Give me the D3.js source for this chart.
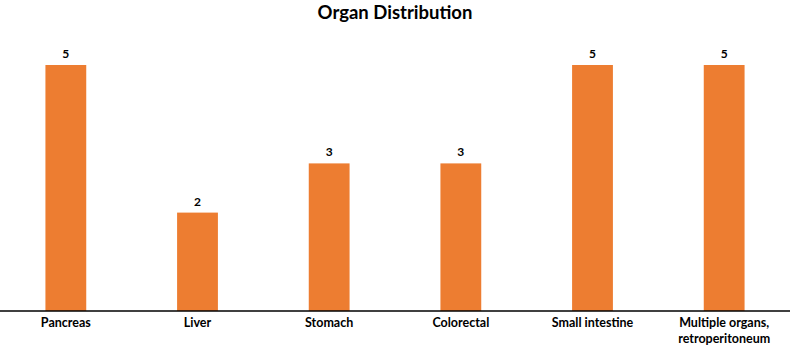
<!DOCTYPE html>
<html>
<head>
<meta charset="utf-8">
<script src="https://cdn.jsdelivr.net/npm/d3@7"></script>
<style>
  body { margin: 0; background: #fff; }
  text { font-family: Lato, "Open Sans", sans-serif; font-weight: bold; fill: #000; }
</style>
</head>
<body>
<svg id="chart" width="790" height="346"></svg>
<script>
const categories = ['Pancreas', 'Liver', 'Stomach', 'Colorectal', 'Small intestine', 'Multiple organs,|retroperitoneum'];
const counts = [5, 2, 3, 3, 5, 5];

const width = 790, height = 346;
const svg = d3.select('#chart');

const x = d3.scaleBand()
    .domain(categories)
    .range([0, width])
    .paddingInner(0.69)
    .paddingOuter(0.345);

const y = d3.scaleLinear()
    .domain([0, 5])
    .range([311, 65]);

// title
svg.append('text')
    .attr('x', width / 2)
    .attr('y', 19)
    .attr('text-anchor', 'middle')
    .attr('font-size', '18.5px')
    .text('Organ Distribution');

// bars
svg.selectAll('.bar')
    .data(counts)
    .enter()
    .append('rect')
    .attr('class', 'bar')
    .attr('x', (d, i) => x(categories[i]))
    .attr('y', d => y(d))
    .attr('width', x.bandwidth())
    .attr('height', d => y(0) - y(d))
    .attr('fill', '#ED7D31');

// value labels
svg.selectAll('.val')
    .data(counts)
    .enter()
    .append('text')
    .attr('class', 'val')
    .attr('x', (d, i) => x(categories[i]) + x.bandwidth() / 2)
    .attr('y', d => y(d) - 7)
    .attr('text-anchor', 'middle')
    .attr('font-size', '12px')
    .text(d => d);

// x axis
const axis = svg.append('g')
    .attr('transform', `translate(0,${y(0)})`)
    .call(d3.axisBottom(x).tickSize(0));

axis.select('.domain')
    .attr('stroke', '#000')
    .attr('stroke-width', 1.3)
    .attr('d', `M0,0H${width}`);

axis.selectAll('.tick text')
    .attr('font-size', '12.5px')
    .attr('font-family', 'Lato, "Open Sans", sans-serif')
    .attr('font-weight', 'bold')
    .attr('fill', '#000')
    .attr('y', 16)
    .attr('dy', null)
    .each(function (d) {
        const parts = d.split('|');
        const t = d3.select(this).text(null);
        parts.forEach((p, i) => {
            t.append('tspan')
                .attr('x', 0)
                .attr('dy', i === 0 ? 0 : 16)
                .text(p);
        });
    });
</script>
</body>
</html>
